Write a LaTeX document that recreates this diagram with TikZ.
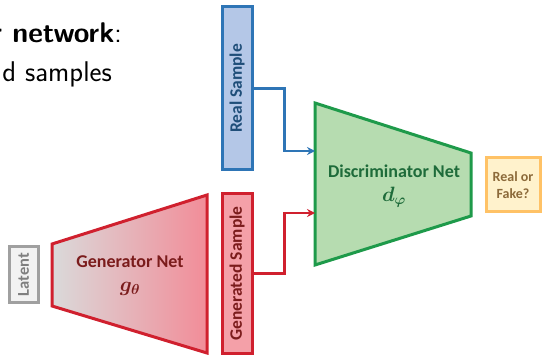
\documentclass[tikz,border=0pt]{standalone}
\usepackage{amsmath,bm}
\usepackage{fontspec}
\newfontfamily\carl{Carlito}
\usetikzlibrary{arrows.meta}
\definecolor{realfill}{HTML}{B4C7E7}
\definecolor{realline}{HTML}{2E75B6}
\definecolor{realtext}{HTML}{1F4E79}
\definecolor{genfill}{HTML}{F4A0A8}
\definecolor{genline}{HTML}{D0202E}
\definecolor{gentext}{HTML}{7B1C1C}
\definecolor{genleft}{HTML}{DADADA}
\definecolor{genright}{HTML}{F28C98}
\definecolor{discfill}{HTML}{B6DCB0}
\definecolor{discline}{HTML}{1E9A4A}
\definecolor{disctext}{HTML}{1E6B3A}
\definecolor{outfill}{HTML}{FFF2CC}
\definecolor{outline}{HTML}{FFC266}
\definecolor{outtext}{HTML}{8C6A3A}
\definecolor{latfill}{HTML}{F2F2F2}
\definecolor{latline}{HTML}{A0A0A0}
\definecolor{lattext}{HTML}{7F7F7F}
\newcommand{\netsym}[1]{{\fontsize{21}{24}\selectfont$\bm{#1}$}}
\tikzset{
  samplebox/.style={draw, line width=3pt, inner sep=0pt, rotate=90,
    minimum height=30pt, font=\carl\bfseries\fontsize{17.5}{20}\selectfont},
  netlabel/.style={align=center, font=\carl\bfseries\fontsize{18}{24}\selectfont},
  conn/.style={line width=2.5pt, -{Stealth[length=8pt,width=8pt]}},
}
\begin{document}
\begin{tikzpicture}[x=1pt,y=-1pt]
\useasboundingbox (0,0) rectangle (543,355);

% heading text, running off the left edge
\node[anchor=base east, inner sep=0pt, font=\sffamily\fontsize{28.5}{34}\selectfont]
  (head1) at (122,43) {\textbf{r network}:};
\node[anchor=base east, inner sep=0pt, font=\sffamily\fontsize{28.5}{34}\selectfont]
  (head2) at (112,82) {d samples};

% latent input
\node[draw=latline, fill=latfill, text=lattext, line width=3pt, rotate=90,
  minimum width=55pt, minimum height=29pt, inner sep=0pt,
  font=\carl\bfseries\fontsize{16.5}{18}\selectfont] (latent) at (23.5,274.5) {Latent};

% generator trapezoid
\shade[left color=genleft, right color=genright] (52,244) -- (207,195) -- (207,353) -- (52,306) -- cycle;
\draw[genline, line width=3pt, line join=miter] (52,244) -- (207,195) -- (207,353) -- (52,306) -- cycle;
\node[netlabel, text=gentext] (gen) at (130,276) {Generator Net\\\netsym{g_{\theta}}};

% sample boxes
\node[samplebox, draw=realline, fill=realfill, text=realtext,
  minimum width=163pt] (real) at (237,88.5) {Real Sample};
\node[samplebox, draw=genline, fill=genfill, text=gentext,
  minimum width=160pt] (fake) at (237,273.5) {Generated Sample};

% discriminator trapezoid
\draw[discline, fill=discfill, line width=3pt, line join=miter]
  (315,103) -- (471,153) -- (471,216) -- (315,265) -- cycle;
\node[netlabel, text=disctext] (disc) at (394,186) {Discriminator Net\\\netsym{d_{\varphi}}};
\coordinate (dinreal) at (315,151);
\coordinate (dinfake) at (315,213);

% output
\node[draw=outline, fill=outfill, text=outtext, line width=3pt,
  minimum width=54pt, minimum height=54pt, inner sep=0pt, align=center,
  font=\carl\bfseries\fontsize{14}{17}\selectfont] (out) at (513,185) {Real or\\Fake?};

% connectors
\draw[conn, realline] (real.south) -- ++(31,0) |- (dinreal);
\draw[conn, genline] (fake.south) -- ++(31,0) |- (dinfake);
\end{tikzpicture}
\end{document}
